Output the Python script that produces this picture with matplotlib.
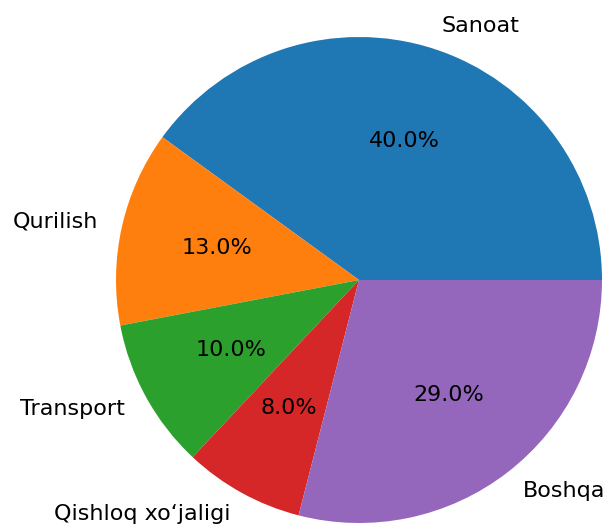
import matplotlib
matplotlib.use("Agg")
import matplotlib.pyplot as plt

labels = ["Sanoat", "Qurilish", "Transport", "Qishloq xo\u2018jaligi", "Boshqa"]
shares = [40, 13, 10, 8, 29]

W, H = 608, 526
cx, cy, r = 359, 280, 243

fig = plt.figure(figsize=(W / 100, H / 100), dpi=100)
ax = fig.add_axes([(cx - r) / W, (H - cy - r) / H, 2 * r / W, 2 * r / H])
ax.pie(shares, labels=labels, autopct="%1.1f%%",
       textprops={"fontsize": 16})
ax.set_xlim(-1, 1)
ax.set_ylim(-1, 1)

plt.savefig("out.png", dpi=100)
